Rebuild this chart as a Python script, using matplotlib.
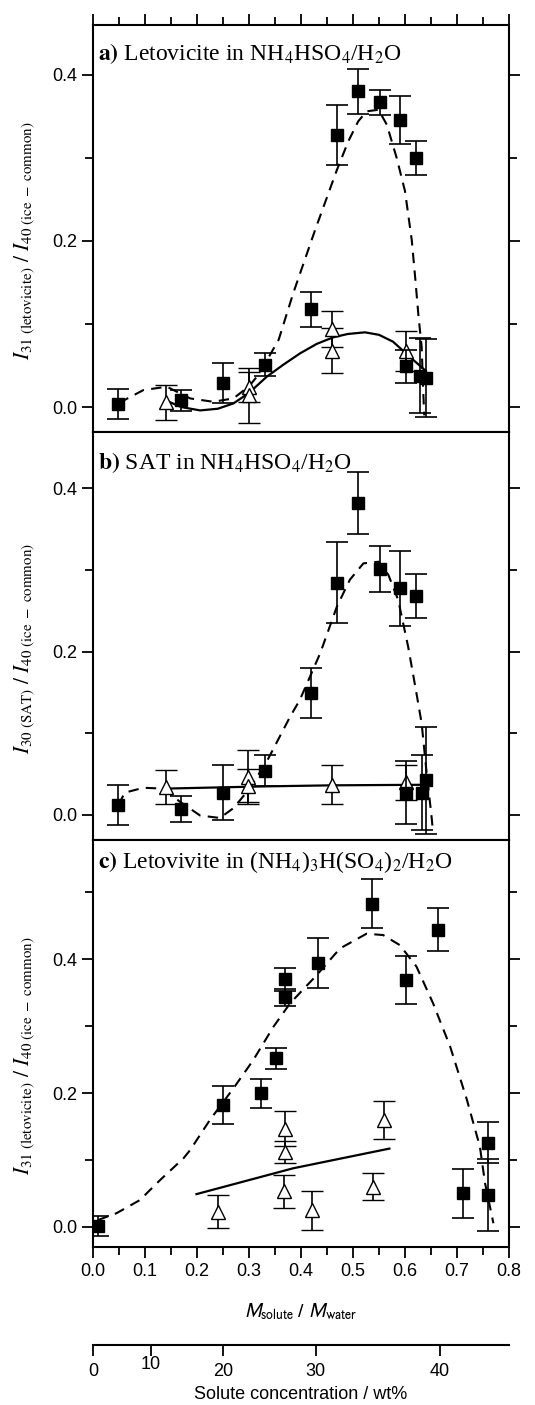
import numpy as np
import matplotlib
matplotlib.use("Agg")
import matplotlib.pyplot as plt
from matplotlib.ticker import MultipleLocator
import matplotlib.transforms as mtransforms

plt.rcParams['font.family'] = ['Liberation Sans', 'DejaVu Sans']

# ---- panel a: letovicite in NH4HSO4/H2O ----
a_sq_x = [0.049, 0.17, 0.25, 0.331, 0.42, 0.47, 0.51, 0.551, 0.59, 0.621, 0.601, 0.629, 0.64]
a_sq_y = [0.004, 0.008, 0.029, 0.051, 0.118, 0.328, 0.380, 0.367, 0.346, 0.300, 0.049, 0.038, 0.035]
a_sq_e = [0.018, 0.013, 0.024, 0.014, 0.021, 0.036, 0.027, 0.015, 0.029, 0.020, 0.020, 0.045, 0.047]
a_tr_x = [0.14, 0.30, 0.30, 0.459, 0.459, 0.601]
a_tr_y = [0.006, 0.024, 0.014, 0.094, 0.068, 0.067]
a_tr_e = [0.021, 0.018, 0.033, 0.022, 0.027, 0.024]
a_dash_x = [0.05, 0.097, 0.142, 0.187, 0.231, 0.27, 0.30, 0.315, 0.331, 0.357, 0.385, 0.427, 0.469,
            0.491, 0.51, 0.526, 0.549, 0.565, 0.584, 0.60, 0.613, 0.62, 0.626, 0.632, 0.635, 0.637]
a_dash_y = [0.005, 0.0205, 0.0245, 0.0104, 0.0064, 0.0104, 0.025, 0.0365, 0.0526, 0.081, 0.137, 0.213,
            0.2855, 0.32, 0.344, 0.356, 0.358, 0.34, 0.30, 0.26, 0.201, 0.153, 0.109, 0.0727, 0.02, -0.01]
a_sol_x = [0.14, 0.17, 0.206, 0.24, 0.27, 0.30, 0.334, 0.366, 0.398, 0.43, 0.462, 0.49, 0.523, 0.55, 0.577, 0.609, 0.638]
a_sol_y = [0.008, 0.0, -0.004, -0.002, 0.0044, 0.017, 0.0365, 0.051, 0.0646, 0.076, 0.084, 0.088, 0.09, 0.087, 0.0787, 0.0606, 0.0446]

# ---- panel b: SAT in NH4HSO4/H2O ----
b_sq_x = [0.049, 0.17, 0.25, 0.33, 0.42, 0.47, 0.51, 0.551, 0.59, 0.621, 0.601, 0.632, 0.64]
b_sq_y = [0.012, 0.007, 0.027, 0.054, 0.149, 0.2845, 0.382, 0.301, 0.2775, 0.268, 0.027, 0.027, 0.042]
b_sq_e = [0.025, 0.016, 0.034, 0.019, 0.031, 0.050, 0.0375, 0.028, 0.046, 0.027, 0.039, 0.046, 0.066]
b_tr_x = [0.14, 0.299, 0.299, 0.459, 0.601]
b_tr_y = [0.034, 0.046, 0.0355, 0.037, 0.0395]
b_tr_e = [0.021, 0.033, 0.020, 0.024, 0.022]
b_dash_x = [0.049, 0.061, 0.097, 0.135, 0.167, 0.206, 0.244, 0.27, 0.30, 0.334, 0.379, 0.398, 0.437, 0.469,
            0.494, 0.52, 0.549, 0.568, 0.587, 0.606, 0.622, 0.632, 0.641, 0.651, 0.654]
b_dash_y = [0.012, 0.027, 0.033, 0.032, 0.016, -0.001, -0.004, 0.008, 0.031, 0.065, 0.12, 0.141, 0.198, 0.255,
            0.288, 0.308, 0.31, 0.294, 0.263, 0.206, 0.149, 0.112, 0.055, -0.002, -0.022]
b_sol_x = [0.14, 0.33, 0.46, 0.64]
b_sol_y = [0.032, 0.0347, 0.036, 0.0367]

# ---- panel c: letovicite in (NH4)3H(SO4)2/H2O ----
c_sq_x = [0.0103, 0.25, 0.324, 0.352, 0.369, 0.369, 0.432, 0.536, 0.601, 0.664, 0.712, 0.76, 0.76]
c_sq_y = [0.0015, 0.182, 0.1995, 0.252, 0.370, 0.343, 0.394, 0.483, 0.369, 0.444, 0.050, 0.126, 0.048]
c_sq_e = [0.015, 0.028, 0.0215, 0.016, 0.017, 0.0125, 0.037, 0.036, 0.036, 0.032, 0.037, 0.030, 0.054]
c_tr_x = [0.241, 0.368, 0.369, 0.369, 0.422, 0.539, 0.56]
c_tr_y = [0.023, 0.053, 0.147, 0.112, 0.025, 0.060, 0.160]
c_tr_e = [0.0245, 0.024, 0.026, 0.016, 0.029, 0.020, 0.028]
c_dash_x = [0.01, 0.045, 0.09, 0.129, 0.174, 0.187, 0.225, 0.27, 0.308, 0.347, 0.379, 0.43, 0.475, 0.526,
            0.558, 0.59, 0.622, 0.654, 0.687, 0.719, 0.744, 0.754, 0.77]
c_dash_y = [0.0104, 0.0204, 0.04, 0.07, 0.1025, 0.115, 0.16, 0.207, 0.249, 0.299, 0.334, 0.376, 0.416, 0.438,
            0.436, 0.421, 0.389, 0.334, 0.269, 0.19, 0.12, 0.065, 0.0055]
c_sol_x = [0.199, 0.385, 0.57]
c_sol_y = [0.049, 0.0876, 0.117]

wt_ticks = [0, 10, 20, 30, 40]

titles = [r"$\mathbf{a)}$ Letovicite in NH$_4$HSO$_4$/H$_2$O",
          r"$\mathbf{b)}$ SAT in NH$_4$HSO$_4$/H$_2$O",
          r"$\mathbf{c)}$ Letovivite in (NH$_4$)$_3$H(SO$_4$)$_2$/H$_2$O"]
ylabels = [r"$I_{\mathrm{31\ (letovicite)}}\ /\ I_{\mathrm{40\ (ice\ -\ common)}}$",
           r"$I_{\mathrm{30\ (SAT)}}\ /\ I_{\mathrm{40\ (ice\ -\ common)}}$",
           r"$I_{\mathrm{31\ (letovicite)}}\ /\ I_{\mathrm{40\ (ice\ -\ common)}}$"]
ylims = [(-0.03, 0.46), (-0.031, 0.469), (-0.03, 0.578)]
title_y = [0.96, 0.955, 0.978]

fig = plt.figure(figsize=(5.35, 14.05), dpi=100)
W, H = 535.0, 1405.0
left, right = 93 / W, 509 / W
edges = [(25, 432), (432, 840), (840, 1247)]

panels = [
    (a_sq_x, a_sq_y, a_sq_e, a_tr_x, a_tr_y, a_tr_e, a_dash_x, a_dash_y, a_sol_x, a_sol_y),
    (b_sq_x, b_sq_y, b_sq_e, b_tr_x, b_tr_y, b_tr_e, b_dash_x, b_dash_y, b_sol_x, b_sol_y),
    (c_sq_x, c_sq_y, c_sq_e, c_tr_x, c_tr_y, c_tr_e, c_dash_x, c_dash_y, c_sol_x, c_sol_y),
]

axes = []
for i, (top, bot) in enumerate(edges):
    ax = fig.add_axes([left, 1 - bot / H, right - left, (bot - top) / H])
    axes.append(ax)
    sx, sy, se, tx, ty, te, dx, dy, lx, ly = panels[i]

    ax.plot(dx, dy, color='black', lw=1.5, ls=(0, (5, 3.5)), zorder=2)
    ax.plot(lx, ly, color='black', lw=1.6, zorder=2)
    ax.errorbar(tx, ty, yerr=te, fmt='^', ms=9.5, mfc='white', mec='black', mew=1.0,
                ecolor='black', elinewidth=1.2, capsize=8, capthick=1.2, zorder=3)
    ax.errorbar(sx, sy, yerr=se, fmt='s', ms=9, mfc='black', mec='black',
                ecolor='black', elinewidth=1.2, capsize=8, capthick=1.2, zorder=4)

    ax.set_xlim(0, 0.8)
    ax.set_ylim(*ylims[i])
    ax.xaxis.set_major_locator(MultipleLocator(0.1))
    ax.xaxis.set_minor_locator(MultipleLocator(0.05))
    ax.yaxis.set_major_locator(MultipleLocator(0.2))
    ax.yaxis.set_minor_locator(MultipleLocator(0.1))
    ax.yaxis.set_major_formatter(matplotlib.ticker.FormatStrFormatter('%.1f'))
    ax.tick_params(which='both', direction='out', width=1.3, labelsize=13,
                   left=True, right=True, top=(i == 0), bottom=True)
    ax.tick_params(which='major', length=8)
    ax.tick_params(which='minor', length=5.5)
    for s in ax.spines.values():
        s.set_linewidth(1.5)
    if i < 2:
        ax.set_xticklabels([])
    ax.text(0.012, title_y[i], titles[i], transform=ax.transAxes, ha='left', va='top',
            fontsize=17, family='Liberation Serif', math_fontfamily='stix')
    ax.set_ylabel(ylabels[i], fontsize=15.5, math_fontfamily='stix')
    ax.yaxis.set_label_coords(-0.135, 0.47)

axes[2].set_xlabel(r"$M_{\mathrm{solute}}$ / $M_{\mathrm{water}}$", fontsize=14,
                   math_fontfamily='stixsans', labelpad=16)

# secondary wt% axis
ax2 = fig.add_axes([left, 1 - 1345 / H, right - left, 0.0001])
ax2.set_xlim(0, 0.8)
ax2.patch.set_visible(False)
for s in ['top', 'left', 'right']:
    ax2.spines[s].set_visible(False)
ax2.spines['bottom'].set_linewidth(1.5)
ax2.set_yticks([])
ax2.set_xticks([w / (100.0 - w) for w in wt_ticks])
ax2.set_xticklabels([str(w) for w in wt_ticks])
ax2.tick_params(axis='x', direction='out', length=8, width=1.3, labelsize=13, pad=5)
lab10 = ax2.get_xticklabels()[1]
lab10.set_transform(lab10.get_transform() + mtransforms.ScaledTranslation(0, 0.07, fig.dpi_scale_trans))
ax2.set_xlabel("Solute concentration / wt%", fontsize=13, labelpad=4)

fig.savefig("out.png", dpi=100)
